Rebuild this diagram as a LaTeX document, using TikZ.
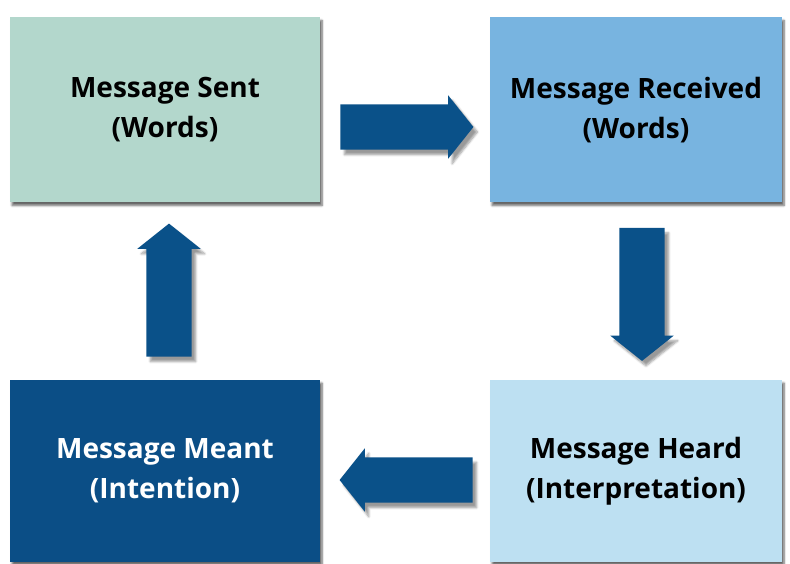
\documentclass[tikz,border=0pt]{standalone}
\usepackage{fontspec}
\setmainfont{Open Sans}
\usetikzlibrary{shapes.arrows,shadows.blur,calc}
\definecolor{sentfill}{HTML}{B3D7CC}
\definecolor{recvfill}{HTML}{78B4E0}
\definecolor{heardfill}{HTML}{BDE0F2}
\definecolor{meantfill}{HTML}{0B4E86}
\definecolor{arrowblue}{HTML}{0A5189}

\begin{document}
\begin{tikzpicture}[x=1pt,y=-1pt,font=\bfseries\fontsize{28}{40}\selectfont,
  box/.style={rectangle,align=center,inner sep=0pt,
    blur shadow={shadow xshift=2pt,shadow yshift=-3pt,shadow blur steps=6,shadow opacity=60}},
  flow/.style={single arrow,fill=arrowblue,draw=none,inner sep=22.5pt,anchor=tail,
    minimum height=133pt,single arrow head extend=9pt,
    single arrow tip angle=103,
    blur shadow={shadow xshift=4pt,shadow yshift=-5pt,shadow blur steps=6,shadow opacity=40}}]
\useasboundingbox (0,0) rectangle (790,564);
% the four stages
\node[box,fill=sentfill,minimum width=310pt,minimum height=185pt] (sent) at (165,110) {Message Sent\\(Words)};
\node[box,fill=recvfill,minimum width=292pt,minimum height=185pt] (recv) at (636,110) {Message Received\\(Words)};
\node[box,fill=heardfill,minimum width=292pt,minimum height=182pt] (heard) at (636,471) {Message Heard\\(Interpretation)};
\node[box,fill=meantfill,text=white,minimum width=310pt,minimum height=182pt] (meant) at (165,471) {Message Meant\\(Intention)};
% block arrows between them
\node[flow] (sent2recv) at ($(sent.east)+(20,17)$) {};
\node[flow,shape border rotate=270] (recv2heard) at ($(recv.south)+(6,25)$) {};
\node[flow,shape border rotate=180] (heard2meant) at ($(heard.west)+(-17,9)$) {};
\node[flow,shape border rotate=90] (meant2sent) at ($(meant.north)+(4,-23)$) {};
\end{tikzpicture}
\end{document}
